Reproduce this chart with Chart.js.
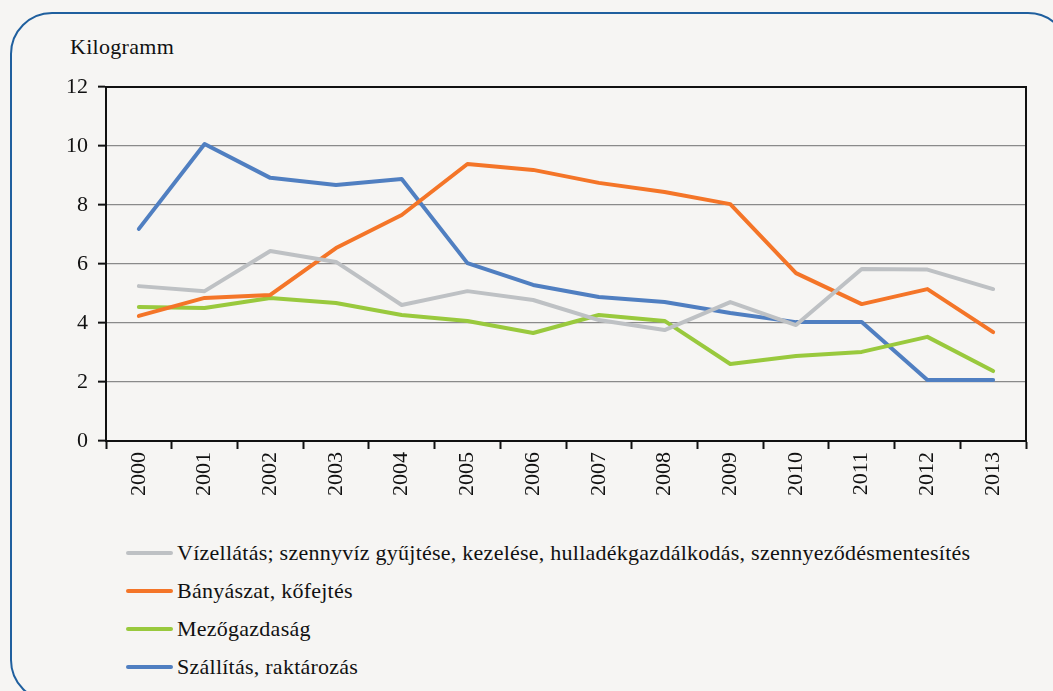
<!DOCTYPE html>
<html>
<head>
<meta charset="utf-8">
<script src="https://cdn.jsdelivr.net/npm/chart.js@4"></script>
<style>
  html, body { margin: 0; padding: 0; background: #f6f5f3; overflow: hidden; }
  body { width: 1053px; height: 691px; position: relative; font-family: "Liberation Serif", "DejaVu Serif", serif; }
  #frame { position: absolute; left: 10px; top: 12px; width: 1060px; height: 690px; border: 2px solid #1f5f9e; border-radius: 42px; box-sizing: border-box; }
  #unit { position: absolute; left: 70px; top: 34px; font-size: 22px; letter-spacing: 0.3px; color: #111; }
  #wrap { position: absolute; left: 0; top: 0; width: 1053px; height: 520px; }
  #legend { position: absolute; left: 126px; top: 534px; }
  .item { display: flex; align-items: center; height: 38px; font-size: 22px; letter-spacing: 0.25px; color: #111; }
  .swatch { width: 47px; height: 4px; border-radius: 2px; margin-right: 4px; }
</style>
</head>
<body>
<div id="frame"></div>
<div id="unit">Kilogramm</div>
<div id="wrap"><canvas id="myChart"></canvas></div>
<div id="legend"></div>
<script>
const years = ['2000','2001','2002','2003','2004','2005','2006','2007','2008','2009','2010','2011','2012','2013'];

const vizellatas = [5.25, 5.08, 6.44, 6.07, 4.61, 5.08, 4.78, 4.10, 3.76, 4.71, 3.93, 5.83, 5.81, 5.15];
const banyaszat = [4.24, 4.85, 4.95, 6.54, 7.66, 9.39, 9.19, 8.75, 8.44, 8.03, 5.69, 4.64, 5.15, 3.69];
const mezogazdasag = [4.54, 4.51, 4.85, 4.68, 4.27, 4.07, 3.66, 4.27, 4.07, 2.61, 2.88, 3.02, 3.53, 2.37];
const szallitas = [7.19, 10.07, 8.92, 8.68, 8.88, 6.03, 5.29, 4.88, 4.71, 4.34, 4.03, 4.03, 2.07, 2.07];

const yTicks = [0, 2, 4, 6, 8, 10, 12];

const data = {
  labels: years,
  datasets: [
    { label: 'Vízellátás; szennyvíz gyűjtése, kezelése, hulladékgazdálkodás, szennyeződésmentesítés', data: vizellatas, borderColor: '#bec1c4' },
    { label: 'Bányászat, kőfejtés', data: banyaszat, borderColor: '#f47528' },
    { label: 'Mezőgazdaság', data: mezogazdasag, borderColor: '#99c93d' },
    { label: 'Szállítás, raktározás', data: szallitas, borderColor: '#507fc1' }
  ]
};

// black frame on top / right of the plot area
const frameBox = {
  id: 'frameBox',
  afterDraw(chart) {
    const a = chart.chartArea, ctx = chart.ctx;
    ctx.save();
    ctx.strokeStyle = '#111';
    ctx.lineWidth = 2;
    ctx.beginPath();
    ctx.moveTo(a.left, a.top);
    ctx.lineTo(a.right, a.top);
    ctx.lineTo(a.right, a.bottom);
    ctx.stroke();
    ctx.restore();
  }
};

const config = {
  type: 'line',
  data: data,
  options: {
    responsive: true,
    maintainAspectRatio: false,
    animation: false,
    layout: { padding: { left: 0, right: 27, top: 87, bottom: 0 } },
    elements: {
      line: { borderWidth: 4, tension: 0, borderCapStyle: 'round', borderJoinStyle: 'round' },
      point: { radius: 0, hoverRadius: 0 }
    },
    plugins: {
      legend: { display: false },
      title: { display: false },
      tooltip: { enabled: false }
    },
    scales: {
      x: {
        offset: true,
        afterFit(scale) { scale.height = 79; },
        grid: { offset: true, drawOnChartArea: false, tickLength: 8, tickColor: '#111', tickWidth: 2 },
        border: { color: '#111', width: 2 },
        ticks: { color: '#111', font: { family: 'Liberation Serif', size: 22 }, minRotation: 90, maxRotation: 90, padding: 3 }
      },
      y: {
        min: 0,
        max: 12,
        afterFit(scale) { scale.width = 106; },
        afterBuildTicks(scale) { scale.ticks = yTicks.map(v => ({ value: v })); },
        grid: { color: '#8a8a8a', lineWidth: 1.3, tickLength: 8, tickColor: '#111', tickWidth: 2 },
        border: { color: '#111', width: 2 },
        ticks: { color: '#111', font: { family: 'Liberation Serif', size: 22 }, padding: 10 }
      }
    }
  },
  plugins: [frameBox]
};

const myChart = new Chart(document.getElementById('myChart'), config);

// legend as a vertical list
const legend = document.getElementById('legend');
data.datasets.forEach(ds => {
  const row = document.createElement('div');
  row.className = 'item';
  const sw = document.createElement('span');
  sw.className = 'swatch';
  sw.style.background = ds.borderColor;
  row.appendChild(sw);
  row.appendChild(document.createTextNode(ds.label));
  legend.appendChild(row);
});
</script>
</body>
</html>
